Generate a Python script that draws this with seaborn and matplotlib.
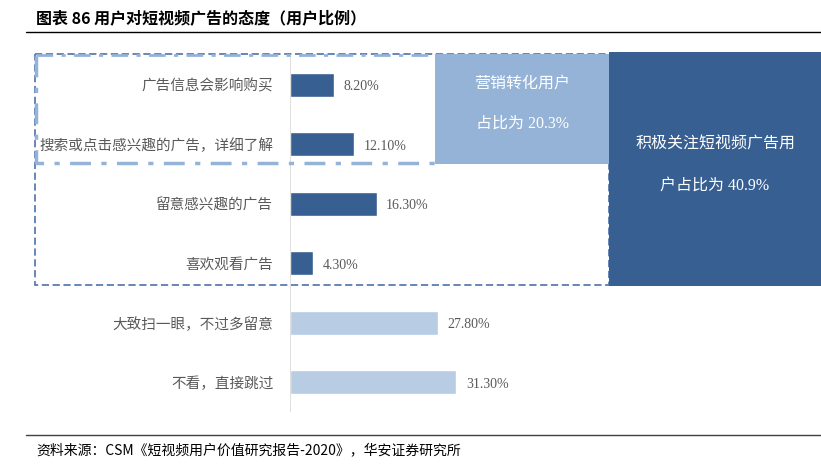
import matplotlib
matplotlib.use("Agg")
import matplotlib.pyplot as plt
import seaborn as sns
from matplotlib.patches import Rectangle

categories = ["广告信息会影响购买", "搜索或点击感兴趣的广告，详细了解", "留意感兴趣的广告",
              "喜欢观看广告", "大致扫一眼，不过多留意", "不看，直接跳过"]
values = [8.2, 12.1, 16.3, 4.3, 27.8, 31.3]
bar_colors = ["#375F92", "#375F92", "#375F92", "#375F92", "#B8CCE4", "#B8CCE4"]
value_labels = ["8.20%", "12.10%", "16.30%", "4.30%", "27.80%", "31.30%"]

title = "图表 86 用户对短视频广告的态度（用户比例）"
source = "资料来源：CSM《短视频用户价值研究报告-2020》，华安证券研究所"
box1_text = "营销转化用户\n\n占比为 20.3%"
box2_text = "积极关注短视频广告用\n\n户占比为 40.9%"

sns.set_style("white")
plt.rcParams['font.family'] = ['Noto Sans CJK SC', 'DejaVu Sans']

W, H = 821, 470
fig = plt.figure(figsize=(W / 100, H / 100), dpi=100)

# bar axes: pixel box x 290..821, y 55..412
ax = fig.add_axes([290 / W, 1 - 412 / H, (W - 290) / W, (412 - 55) / H])
sns.barplot(x=values, y=categories, hue=categories, palette=bar_colors,
            legend=False, width=0.4, orient="h", ax=ax, saturation=1)
ax.set_xlim(0, 100)
ax.set_xlabel("")
ax.set_ylabel("")
ax.set_xticks([])
sns.despine(ax=ax, left=True, bottom=True)
ax.axvline(0, color="#D9D9D9", lw=1.2)
ax.tick_params(axis="y", length=0, pad=12, labelsize=10.5, labelcolor="#595959")
for i, (v, lab) in enumerate(zip(values, value_labels)):
    ax.text(v + 1.8, i + 0.03, lab, va="center", ha="left", fontsize=10, color="#595959",
            family=["Liberation Serif", "Noto Sans CJK SC"])

# overlay in pixel coordinates
ov = fig.add_axes([0, 0, 1, 1], zorder=5)
ov.set_xlim(0, W)
ov.set_ylim(H, 0)
ov.axis("off")
ov.patch.set_alpha(0)

ov.text(36, 18, title, fontsize=11.5, fontweight="bold", va="center", ha="left", color="#000000")
ov.plot([26, W], [32, 32], color="#000000", lw=1)

# outer dashed box
ov.add_patch(Rectangle((35, 54), 609 - 35, 285 - 54, fill=False, ec="#5B7DB1",
                       lw=1.3, ls=(0, (4, 2))))
# inner dash-dot box
ov.plot([36, 36, 435], [56, 163, 163], color="#95B3D7", lw=2.5, ls=(0, (6, 3, 1.5, 3)))
ov.plot([36, 435], [55, 55], color="#95B3D7", lw=2.0, ls=(0, (6, 3, 1.5, 3)))

# filled boxes
ov.add_patch(Rectangle((435, 54), 610 - 435, 164 - 54, color="#95B3D7", lw=0))
ov.add_patch(Rectangle((609, 52), W - 609, 286 - 52, color="#375F92", lw=0))
ov.text(522, 104, box1_text, color="white", fontsize=11.5, ha="center", va="center",
        linespacing=1.35, family=["Liberation Serif", "Noto Sans CJK SC"])
ov.text(715, 165, box2_text, color="white", fontsize=11.5, ha="center", va="center",
        linespacing=1.35, family=["Liberation Serif", "Noto Sans CJK SC"])

# source footer
ov.plot([26, W], [435, 435], color="#404040", lw=1)
ov.text(36, 450, source, fontsize=10, va="center", ha="left", color="#000000",
        family=["Noto Sans CJK SC", "DejaVu Sans"])

fig.savefig("out.png", dpi=100)
